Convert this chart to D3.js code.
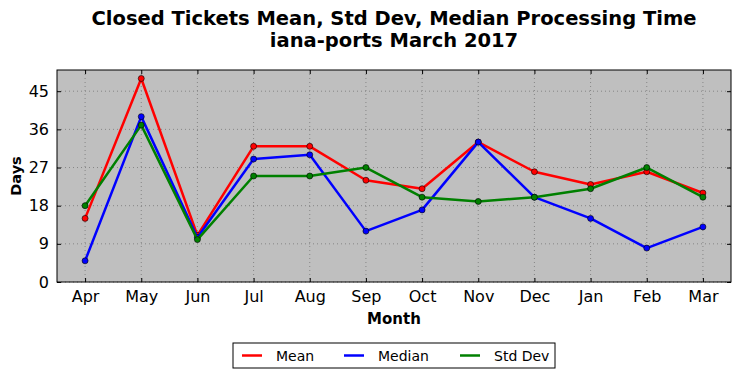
<!DOCTYPE html>
<html>
<head>
<meta charset="utf-8">
<script src="https://cdn.jsdelivr.net/npm/d3@7"></script>
<style>
  body { margin: 0; background: #fff; }
  svg, svg text { font-family: "DejaVu Sans", sans-serif; }
</style>
</head>
<body>
<div id="chart"></div>
<script>
const months = ["Apr", "May", "Jun", "Jul", "Aug", "Sep", "Oct", "Nov", "Dec", "Jan", "Feb", "Mar"];
const meanDays = [15, 48, 11, 32, 32, 24, 22, 33, 26, 23, 26, 21];
const medianDays = [5, 39, 10.5, 29, 30, 12, 17, 33, 20, 15, 8, 13];
const stdDevDays = [18, 37, 10, 25, 25, 27, 20, 19, 20, 22, 27, 20];
const yTicks = [0, 9, 18, 27, 36, 45];

const series = [
  { name: "Mean", color: "#ff0000", values: meanDays },
  { name: "Median", color: "#0000ff", values: medianDays },
  { name: "Std Dev", color: "#008000", values: stdDevDays }
];

const width = 741, height = 378;
const margin = { top: 70, right: 10, bottom: 96, left: 57 };
const innerW = width - margin.left - margin.right;
const innerH = height - margin.top - margin.bottom;

const svg = d3.select("#chart").append("svg")
  .attr("width", width)
  .attr("height", height);

// title
const title = svg.append("text")
  .attr("text-anchor", "middle")
  .attr("font-size", 19.5)
  .attr("font-weight", "bold");
title.append("tspan").attr("x", margin.left + innerW / 2).attr("y", 25)
  .text("Closed Tickets Mean, Std Dev, Median Processing Time");
title.append("tspan").attr("x", margin.left + innerW / 2).attr("y", 47)
  .text("iana-ports March 2017");

const x = d3.scaleLinear().domain([-0.5, months.length - 0.5]).range([0, innerW]);
const y = d3.scaleLinear().domain([0, 50]).range([innerH, 0]);

const g = svg.append("g").attr("transform", `translate(${margin.left},${margin.top})`);

g.append("rect")
  .attr("width", innerW)
  .attr("height", innerH)
  .attr("fill", "#bfbfbf");

// grid
g.append("g")
  .selectAll("line")
  .data(yTicks)
  .join("line")
  .attr("x1", 0).attr("x2", innerW)
  .attr("y1", d => y(d)).attr("y2", d => y(d))
  .attr("stroke", "#777").attr("stroke-width", 0.8)
  .attr("stroke-dasharray", "1,3");
g.append("g")
  .selectAll("line")
  .data(months.map((m, i) => i))
  .join("line")
  .attr("x1", d => x(d)).attr("x2", d => x(d))
  .attr("y1", 0).attr("y2", innerH)
  .attr("stroke", "#777").attr("stroke-width", 0.8)
  .attr("stroke-dasharray", "1,3");

// axes with inward ticks
const xAxis = d3.axisBottom(x)
  .tickValues(months.map((m, i) => i))
  .tickFormat(i => months[i])
  .tickSizeInner(-4).tickSizeOuter(0).tickPadding(9);
const yAxis = d3.axisLeft(y)
  .tickValues(yTicks)
  .tickSizeInner(-4).tickSizeOuter(0).tickPadding(8);

g.append("g").attr("transform", `translate(0,${innerH})`).call(xAxis)
  .attr("font-family", null)
  .call(a => a.select(".domain").remove())
  .selectAll("text").attr("font-size", 16).attr("fill", "#000");
g.append("g").call(yAxis)
  .attr("font-family", null)
  .call(a => a.select(".domain").remove())
  .selectAll("text").attr("font-size", 16).attr("fill", "#000");
g.append("g").call(d3.axisTop(x).tickValues(months.map((m, i) => i)).tickFormat("").tickSizeInner(-4).tickSizeOuter(0))
  .call(a => a.select(".domain").remove());
g.append("g").attr("transform", `translate(${innerW},0)`)
  .call(d3.axisRight(y).tickValues(yTicks).tickFormat("").tickSizeInner(-4).tickSizeOuter(0))
  .call(a => a.select(".domain").remove());

// lines
const line = d3.line()
  .x((d, i) => x(i))
  .y(d => y(d));

series.forEach(s => {
  g.append("path")
    .datum(s.values)
    .attr("fill", "none")
    .attr("stroke", s.color)
    .attr("stroke-width", 2.5)
    .attr("stroke-linejoin", "round")
    .attr("d", line);
  g.append("g")
    .selectAll("circle")
    .data(s.values)
    .join("circle")
    .attr("cx", (d, i) => x(i))
    .attr("cy", d => y(d))
    .attr("r", 3)
    .attr("fill", s.color)
    .attr("stroke", "#000")
    .attr("stroke-width", 0.6);
});

// frame
g.append("rect")
  .attr("width", innerW)
  .attr("height", innerH)
  .attr("fill", "none")
  .attr("stroke", "#000")
  .attr("stroke-width", 1);

// axis labels
svg.append("text")
  .attr("x", margin.left + innerW / 2)
  .attr("y", 324)
  .attr("text-anchor", "middle")
  .attr("font-size", 15)
  .attr("font-weight", "bold")
  .text("Month");
svg.append("text")
  .attr("transform", `translate(21,${margin.top + innerH / 2}) rotate(-90)`)
  .attr("text-anchor", "middle")
  .attr("font-size", 14.5)
  .attr("font-weight", "bold")
  .text("Days");

// legend
const legend = svg.append("g").attr("transform", "translate(233,343)");
legend.append("rect")
  .attr("width", 322).attr("height", 25)
  .attr("fill", "#fff").attr("stroke", "#000").attr("stroke-width", 1);
const legendX = [9, 111, 227];
series.forEach((s, i) => {
  legend.append("line")
    .attr("x1", legendX[i]).attr("x2", legendX[i] + 20)
    .attr("y1", 12.5).attr("y2", 12.5)
    .attr("stroke", s.color).attr("stroke-width", 2.5);
  legend.append("text")
    .attr("x", legendX[i] + 34).attr("y", 17.5)
    .attr("font-size", 14)
    .text(s.name);
});
</script>
</body>
</html>
